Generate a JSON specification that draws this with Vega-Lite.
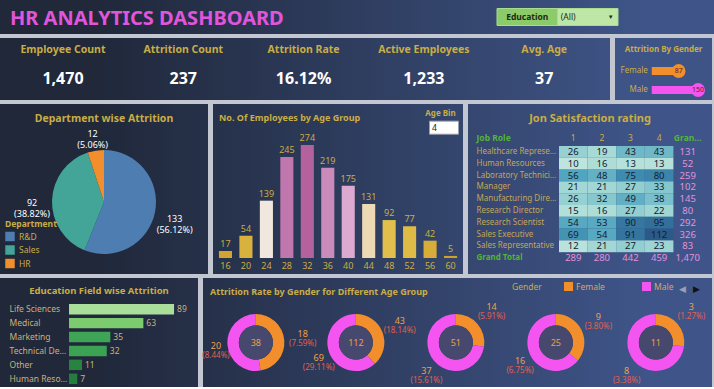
{
  "$schema": "https://vega.github.io/schema/vega-lite/v6.json",
  "background": "#c3c7d1",
  "padding": 0,
  "spacing": 4,
  "resolve": {"scale": {"color": "independent", "theta": "independent"}, "legend": {"color": "independent"}},
  "config": {
    "font": "Noto Sans",
    "view": {"stroke": null},
    "title": {"offset": 0, "baseline": "middle", "frame": "group", "color": "#c9ad45", "fontWeight": "bold", "font": "Noto Sans"},
    "axis": {"grid": false, "domain": false, "ticks": false, "tickSize": 0, "labelFont": "Noto Sans", "titleFont": "Noto Sans"},
    "legend": {"labelFont": "Noto Sans", "titleFont": "Noto Sans"}
  },
  "vconcat": [
    {
      "width": 714, "height": 34,
      "view": {"stroke": null, "fill": {"gradient": "linear", "x1": 0, "y1": 0, "x2": 1, "y2": 0, "stops": [{"offset": 0, "color": "#20283a"}, {"offset": 0.14, "color": "#20283a"}, {"offset": 0.91, "color": "#3f5589"}, {"offset": 1, "color": "#3f5589"}]}},
      "title": {"text": "HR ANALYTICS DASHBOARD", "anchor": "start", "dx": 10, "dy": 33, "fontSize": 20, "color": "#e055dc"},
      "data": {"values": [{"part": "Education"}, {"part": "(All)"}]},
      "encoding": {
        "x": {"field": "part", "type": "nominal", "sort": null, "axis": null, "scale": {"type": "band", "domain": ["Education", "(All)"], "range": [497, 618], "paddingInner": 0, "paddingOuter": 0}},
        "y": {"datum": "filter", "type": "nominal", "axis": null, "scale": {"type": "band", "domain": ["filter"], "paddingInner": 0, "paddingOuter": 0.5}}
      },
      "layer": [
        {"mark": {"type": "rect", "stroke": "#a9dc8c", "strokeWidth": 1}, "encoding": {"color": {"field": "part", "type": "nominal", "legend": null, "scale": {"domain": ["Education", "(All)"], "range": ["#8ccb69", "#bde6a7"]}}}},
        {"transform": [{"filter": "datum.part == 'Education'"}], "mark": {"type": "text", "fontSize": 8.5, "fontWeight": "bold", "color": "#1d2a14"}, "encoding": {"text": {"field": "part"}}},
        {"transform": [{"filter": "datum.part == '(All)'"}], "mark": {"type": "text", "fontSize": 8.5, "align": "left", "xOffset": -27, "color": "#1d2a14"}, "encoding": {"text": {"field": "part"}}},
        {"transform": [{"filter": "datum.part == '(All)'"}], "mark": {"type": "text", "fontSize": 6, "xOffset": 23, "color": "#1d2a14"}, "encoding": {"text": {"value": "▼"}}}
      ]
    },
    {
      "resolve": {"scale": {"color": "independent", "theta": "independent"}, "legend": {"color": "independent"}},
      "hconcat": [
        {
          "width": 610, "height": 62,
          "view": {"stroke": null, "fill": {"gradient": "linear", "x1": 0, "y1": 0, "x2": 1, "y2": 0, "stops": [{"offset": 0, "color": "#20283a"}, {"offset": 0.164, "color": "#20283a"}, {"offset": 1, "color": "#3d5283"}]}},
          "data": {"values": [
            {"kpi": "Employee Count", "value": "1,470"},
            {"kpi": "Attrition Count", "value": "237"},
            {"kpi": "Attrition Rate", "value": "16.12%"},
            {"kpi": "Active Employees", "value": "1,233"},
            {"kpi": "Avg. Age", "value": "37"}
          ]},
          "encoding": {"x": {"field": "kpi", "type": "nominal", "sort": null, "axis": null, "scale": {"type": "band", "paddingInner": 0, "paddingOuter": 0.035, "align": 0.335}}},
          "layer": [
            {"mark": {"type": "text", "fontSize": 10.5, "fontWeight": "bold", "color": "#c9ad45"}, "encoding": {"text": {"field": "kpi"}, "y": {"datum": "label", "type": "nominal", "axis": null, "scale": {"type": "point", "domain": ["label", "value"], "padding": 0.569, "align": 0.364}}}},
            {"mark": {"type": "text", "fontSize": 16, "fontWeight": "bold", "color": "#ffffff"}, "encoding": {"text": {"field": "value"}, "y": {"datum": "value", "type": "nominal"}}}
          ]
        },
        {
          "width": 97, "height": 62,
          "view": {"stroke": null, "fill": "#3e5487"},
          "title": {"text": "Attrition By Gender", "fontSize": 8, "dy": 20},
          "data": {"values": [{"gender": "Female", "count": 87}, {"gender": "Male", "count": 150}]},
          "encoding": {
            "y": {"field": "gender", "type": "nominal", "axis": null, "scale": {"type": "band", "domain": ["Female", "Male"], "paddingInner": 0.579, "paddingOuter": 0.921, "align": 0.829}},
            "x": {"field": "count", "type": "quantitative", "axis": null, "scale": {"domain": [-119, 195], "nice": false, "zero": false}},
            "color": {"field": "gender", "type": "nominal", "legend": null, "scale": {"domain": ["Female", "Male"], "range": ["#f28e2b", "#f455f0"]}}
          },
          "layer": [
            {"mark": {"type": "bar"}},
            {"mark": {"type": "point", "filled": true, "size": 190, "opacity": 1}},
            {"mark": {"type": "text", "fontSize": 7}, "encoding": {"text": {"field": "count"}, "color": {"value": "#5a2020"}}},
            {"mark": {"type": "text", "align": "right", "dx": -4, "fontSize": 8}, "encoding": {"x": {"datum": 0, "type": "quantitative"}, "text": {"field": "gender"}, "color": {"value": "#c9ad45"}}}
          ]
        }
      ],
      "spacing": 5,
      "bounds": "flush"
    },
    {
      "resolve": {"scale": {"color": "independent", "theta": "independent"}, "legend": {"color": "independent"}},
      "hconcat": [
        {
          "width": 208, "height": 170,
          "view": {"stroke": null, "fill": {"gradient": "linear", "x1": 0, "y1": 0, "x2": 1, "y2": 0, "stops": [{"offset": 0, "color": "#20283a"}, {"offset": 0.48, "color": "#20283a"}, {"offset": 1, "color": "#263149"}]}},
          "title": {"text": "Department wise Attrition", "fontSize": 10.5, "dy": 24},
          "data": {"values": [
            {"department": "R&D", "attrition": 133, "label": "133\n(56.12%)", "order": 1},
            {"department": "Sales", "attrition": 92, "label": "92\n(38.82%)", "order": 2},
            {"department": "HR", "attrition": 12, "label": "12\n(5.06%)", "order": 3}
          ]},
          "encoding": {
            "theta": {"field": "attrition", "type": "quantitative", "stack": true},
            "order": {"field": "order", "type": "quantitative"}
          },
          "layer": [
            {"mark": {"type": "arc", "outerRadius": 52, "yOffset": 13},
             "encoding": {"color": {"field": "department", "type": "nominal", "sort": null, "scale": {"domain": ["R&D", "Sales", "HR"], "range": ["#4e7db1", "#43a597", "#f28e2b"]},
               "legend": {"orient": "bottom-left", "offset": 5, "title": "Department", "titleColor": "#c9ad45", "titleFontSize": 8.5, "titleFontWeight": "bold", "titlePadding": 3, "labelColor": "#c9ad45", "labelFontSize": 8.5, "symbolType": "square", "symbolSize": 90, "symbolStrokeWidth": 0, "symbolOpacity": 1, "rowPadding": 3.5}}}},
            {"mark": {"type": "text", "radius": 72, "yOffset": 16, "fontSize": 9, "lineBreak": "\n"},
             "encoding": {"text": {"field": "label"}, "detail": {"field": "department"}, "color": {"value": "#ffffff"}}}
          ]
        },
        {
          "width": 250, "height": 170,
          "view": {"stroke": null, "fill": {"gradient": "linear", "x1": 0, "y1": 0, "x2": 1, "y2": 0, "stops": [{"offset": 0, "color": "#26314a"}, {"offset": 1, "color": "#34466e"}]}},
          "title": {"text": "No. Of Employees by Age Group", "fontSize": 9, "anchor": "start", "dx": 6, "dy": 23},
          "encoding": {
            "x": {"field": "age", "type": "ordinal", "scale": {"type": "band", "domain": [16, 20, 24, 28, 32, 36, 40, 44, 48, 52, 56, 60], "paddingInner": 0.36, "paddingOuter": 0.29},
                  "axis": {"orient": "bottom", "labelPadding": -13, "labelColor": "#c9ad45", "labelFontSize": 9, "labelAngle": 0, "domain": false, "ticks": false, "title": null}},
            "y": {"field": "employees", "type": "quantitative", "axis": null, "scale": {"domain": [-38.8, 373.4], "nice": false, "zero": false}}
          },
          "layer": [
            {"data": {"name": "ages", "values": [
               {"age": 16, "employees": 17}, {"age": 20, "employees": 54}, {"age": 24, "employees": 139},
               {"age": 28, "employees": 245}, {"age": 32, "employees": 274}, {"age": 36, "employees": 219},
               {"age": 40, "employees": 175}, {"age": 44, "employees": 131}, {"age": 48, "employees": 92},
               {"age": 52, "employees": 77}, {"age": 56, "employees": 42}, {"age": 60, "employees": 5}
             ]},
             "mark": {"type": "bar"}, "encoding": {"color": {"field": "employees", "type": "quantitative", "legend": null, "scale": {"domain": [5, 100, 135, 140, 175, 274], "range": ["#d0a02a", "#e2c250", "#eddcc0", "#f0ebe6", "#dcaad0", "#b4629e"]}}}},
            {"data": {"name": "ages"}, "mark": {"type": "text", "baseline": "bottom", "dy": -2, "fontSize": 9, "color": "#c9ad45"}, "encoding": {"text": {"field": "employees"}}},
            {"data": {"values": [{"parameter": "Age Bin", "age": 60, "employees": 350}]},
             "mark": {"type": "text", "fontSize": 8, "fontWeight": "bold", "color": "#c9ad45", "xOffset": -10}, "encoding": {"text": {"field": "parameter"}}},
            {"data": {"values": [{"parameter": "Age Bin", "age": 60, "employees": 316, "value": "4"}]},
             "mark": {"type": "point", "shape": "M-1,-0.45H1V0.45H-1Z", "size": 841, "filled": true, "color": "#ffffff", "stroke": "#9aa0aa", "strokeWidth": 1, "opacity": 1, "xOffset": -6.5}},
            {"data": {"values": [{"parameter": "Age Bin", "age": 60, "employees": 316, "value": "4"}]},
             "mark": {"type": "text", "fontSize": 8.5, "align": "left", "color": "#222222", "xOffset": -18.5}, "encoding": {"text": {"field": "value"}}}
          ]
        },
        {
          "width": 244, "height": 170,
          "view": {"stroke": null, "fill": {"gradient": "linear", "x1": 0, "y1": 0, "x2": 1, "y2": 0, "stops": [{"offset": 0, "color": "#35466f"}, {"offset": 0.746, "color": "#3f5589"}, {"offset": 1, "color": "#3f5589"}]}},
          "title": {"text": "Jon Satisfaction rating", "fontSize": 11, "dy": 24},
          "data": {"values": [
            {"role": "Healthcare Representative", "rating": "1", "count": 26}, {"role": "Healthcare Representative", "rating": "2", "count": 19}, {"role": "Healthcare Representative", "rating": "3", "count": 43}, {"role": "Healthcare Representative", "rating": "4", "count": 43}, {"role": "Healthcare Representative", "rating": "Grand Total", "count": 131},
            {"role": "Human Resources", "rating": "1", "count": 10}, {"role": "Human Resources", "rating": "2", "count": 16}, {"role": "Human Resources", "rating": "3", "count": 13}, {"role": "Human Resources", "rating": "4", "count": 13}, {"role": "Human Resources", "rating": "Grand Total", "count": 52},
            {"role": "Laboratory Technician", "rating": "1", "count": 56}, {"role": "Laboratory Technician", "rating": "2", "count": 48}, {"role": "Laboratory Technician", "rating": "3", "count": 75}, {"role": "Laboratory Technician", "rating": "4", "count": 80}, {"role": "Laboratory Technician", "rating": "Grand Total", "count": 259},
            {"role": "Manager", "rating": "1", "count": 21}, {"role": "Manager", "rating": "2", "count": 21}, {"role": "Manager", "rating": "3", "count": 27}, {"role": "Manager", "rating": "4", "count": 33}, {"role": "Manager", "rating": "Grand Total", "count": 102},
            {"role": "Manufacturing Director", "rating": "1", "count": 26}, {"role": "Manufacturing Director", "rating": "2", "count": 32}, {"role": "Manufacturing Director", "rating": "3", "count": 49}, {"role": "Manufacturing Director", "rating": "4", "count": 38}, {"role": "Manufacturing Director", "rating": "Grand Total", "count": 145},
            {"role": "Research Director", "rating": "1", "count": 15}, {"role": "Research Director", "rating": "2", "count": 16}, {"role": "Research Director", "rating": "3", "count": 27}, {"role": "Research Director", "rating": "4", "count": 22}, {"role": "Research Director", "rating": "Grand Total", "count": 80},
            {"role": "Research Scientist", "rating": "1", "count": 54}, {"role": "Research Scientist", "rating": "2", "count": 53}, {"role": "Research Scientist", "rating": "3", "count": 90}, {"role": "Research Scientist", "rating": "4", "count": 95}, {"role": "Research Scientist", "rating": "Grand Total", "count": 292},
            {"role": "Sales Executive", "rating": "1", "count": 69}, {"role": "Sales Executive", "rating": "2", "count": 54}, {"role": "Sales Executive", "rating": "3", "count": 91}, {"role": "Sales Executive", "rating": "4", "count": 112}, {"role": "Sales Executive", "rating": "Grand Total", "count": 326},
            {"role": "Sales Representative", "rating": "1", "count": 12}, {"role": "Sales Representative", "rating": "2", "count": 21}, {"role": "Sales Representative", "rating": "3", "count": 27}, {"role": "Sales Representative", "rating": "4", "count": 23}, {"role": "Sales Representative", "rating": "Grand Total", "count": 83},
            {"role": "Grand Total", "rating": "1", "count": 289}, {"role": "Grand Total", "rating": "2", "count": 280}, {"role": "Grand Total", "rating": "3", "count": 442}, {"role": "Grand Total", "rating": "4", "count": 459}, {"role": "Grand Total", "rating": "Grand Total", "count": 1470}
          ]},
          "encoding": {
            "x": {"field": "rating", "type": "nominal", "sort": null,
                  "scale": {"type": "band", "domain": ["1", "2", "3", "4", "Grand Total"], "range": [91, 234], "paddingInner": 0, "paddingOuter": 0},
                  "axis": {"orient": "top", "labelPadding": -38, "labelBaseline": "bottom", "labelAngle": 0, "labelFontSize": 8.5, "labelLimit": 30, "title": null,
                           "labelColor": {"condition": {"test": "datum.value == 'Grand Total'", "value": "#52b43a"}, "value": "#c9ad45"},
                           "labelFontWeight": {"condition": {"test": "datum.value == 'Grand Total'", "value": "bold"}, "value": "normal"}}},
            "y": {"field": "role", "type": "nominal", "sort": null,
                  "scale": {"type": "band", "domain": ["Healthcare Representative", "Human Resources", "Laboratory Technician", "Manager", "Manufacturing Director", "Research Director", "Research Scientist", "Sales Executive", "Sales Representative", "Grand Total"], "range": [42, 160], "paddingInner": 0, "paddingOuter": 0},
                  "axis": {"orient": "left", "labelAlign": "left", "labelPadding": -8, "labelFontSize": 8, "labelLimit": 82,
                           "labelColor": {"condition": {"test": "datum.value == 'Grand Total'", "value": "#52b43a"}, "value": "#c4a656"},
                           "labelFontWeight": {"condition": {"test": "datum.value == 'Grand Total'", "value": "bold"}, "value": "normal"},
                           "title": "Job Role", "titleAngle": 0, "titleAlign": "left", "titleBaseline": "bottom", "titleX": 8, "titleY": 38, "titleColor": "#52b43a", "titleFontSize": 8.5, "titleFontWeight": "bold"}}
          },
          "layer": [
            {"transform": [{"filter": "datum.rating != 'Grand Total' && datum.role != 'Grand Total'"}],
             "mark": {"type": "rect"},
             "encoding": {"color": {"field": "count", "type": "quantitative", "legend": null, "scale": {"domain": [10, 30, 60, 112], "range": ["#bde5dd", "#8ccbd0", "#4a9fbe", "#2b5a88"]}}}},
            {"mark": {"type": "text", "fontSize": 9.5},
             "encoding": {"text": {"field": "count", "type": "quantitative", "format": ","},
                          "color": {"condition": {"test": "datum.rating == 'Grand Total' || datum.role == 'Grand Total'", "value": "#e391dc"}, "value": "#15202b"}}}
          ]
        }
      ],
      "spacing": 5,
      "bounds": "flush"
    },
    {
      "resolve": {"scale": {"color": "independent", "theta": "independent"}, "legend": {"color": "independent"}},
      "hconcat": [
        {
          "width": 198, "height": 109,
          "view": {"stroke": null, "fill": {"gradient": "linear", "x1": 0, "y1": 0, "x2": 1, "y2": 0, "stops": [{"offset": 0, "color": "#20283a"}, {"offset": 0.505, "color": "#20283a"}, {"offset": 1, "color": "#263048"}]}},
          "title": {"text": "Education Field wise Attrition", "fontSize": 9.5, "dy": 21},
          "data": {"values": [
            {"education": "Life Sciences", "attrition": 89},
            {"education": "Medical", "attrition": 63},
            {"education": "Marketing", "attrition": 35},
            {"education": "Technical Degree", "attrition": 32},
            {"education": "Other", "attrition": 11},
            {"education": "Human Resources", "attrition": 7}
          ]},
          "encoding": {
            "y": {"field": "education", "type": "nominal", "sort": null, "scale": {"type": "band", "range": [26, 106], "paddingInner": 0.25, "paddingOuter": 0},
                  "axis": {"orient": "left", "labelAlign": "left", "labelPadding": -9, "labelColor": "#c8b27a", "labelFontSize": 8.5, "labelLimit": 58, "title": null}},
            "x": {"field": "attrition", "type": "quantitative", "axis": null, "scale": {"domain": [-58.5, 109.3], "nice": false, "zero": false}}
          },
          "layer": [
            {"mark": {"type": "bar"}, "encoding": {"color": {"field": "attrition", "type": "quantitative", "legend": null, "scale": {"domain": [7, 35, 63, 89], "range": ["#247d3d", "#3ea556", "#7ccb6e", "#a9de9b"]}}}},
            {"mark": {"type": "text", "align": "left", "dx": 3, "fontSize": 8.5, "color": "#c8b27a"}, "encoding": {"text": {"field": "attrition"}}}
          ]
        },
        {
          "width": 509, "height": 109,
          "view": {"stroke": null, "fill": {"gradient": "linear", "x1": 0, "y1": 0, "x2": 1, "y2": 0, "stops": [{"offset": 0, "color": "#263049"}, {"offset": 0.878, "color": "#3f5589"}, {"offset": 1, "color": "#3f5589"}]}},
          "title": {"text": "Attrition Rate by Gender for Different Age Group", "fontSize": 9, "anchor": "start", "dx": 7, "dy": 23},
          "data": {"values": [
            {"group": "Under 25", "gender": "Female", "count": 18, "pct": "(7.59%)"},
            {"group": "Under 25", "gender": "Male", "count": 20, "pct": "(8.44%)"},
            {"group": "25-34", "gender": "Female", "count": 43, "pct": "(18.14%)"},
            {"group": "25-34", "gender": "Male", "count": 69, "pct": "(29.11%)"},
            {"group": "35-44", "gender": "Female", "count": 14, "pct": "(5.91%)"},
            {"group": "35-44", "gender": "Male", "count": 37, "pct": "(15.61%)"},
            {"group": "45-54", "gender": "Female", "count": 9, "pct": "(3.80%)"},
            {"group": "45-54", "gender": "Male", "count": 16, "pct": "(6.75%)"},
            {"group": "Over 55", "gender": "Female", "count": 3, "pct": "(1.27%)"},
            {"group": "Over 55", "gender": "Male", "count": 8, "pct": "(3.38%)"}
          ]},
          "transform": [
            {"stack": "count", "groupby": ["group"], "sort": [{"field": "gender", "order": "ascending"}], "offset": "normalize", "as": ["t0", "t1"]},
            {"calculate": "(datum.t0 + datum.t1) / 2", "as": "tmid"}
          ],
          "encoding": {
            "x": {"field": "group", "type": "nominal", "sort": null, "axis": null, "scale": {"type": "point", "domain": ["Under 25", "25-34", "35-44", "45-54", "Over 55"], "padding": 0.545, "align": 0.485}}
          },
          "layer": [
            {"mark": {"type": "arc", "outerRadius": 28.5, "innerRadius": 17, "yOffset": 10},
             "encoding": {
               "theta": {"field": "t0", "type": "quantitative", "stack": null, "scale": {"domain": [0, 1]}},
               "theta2": {"field": "t1"},
               "color": {"field": "gender", "type": "nominal", "scale": {"domain": ["Female", "Male"], "range": ["#f28e2b", "#f455f0"]},
                 "legend": {"orient": "none", "legendX": 309, "legendY": 4, "direction": "horizontal", "title": "Gender", "titleOrient": "left", "titleColor": "#c9ad45", "titleFontSize": 8.5, "titleFontWeight": "normal", "titlePadding": 22, "labelColor": "#dca266", "labelFontSize": 8.5, "symbolType": "square", "symbolSize": 81, "symbolStrokeWidth": 0, "symbolOpacity": 1, "columnPadding": 37, "labelOffset": 3}}
             }},
            {"mark": {"type": "point", "filled": true, "size": 1156, "color": "#46496d", "opacity": 1, "yOffset": 10}},
            {"mark": {"type": "text", "fontSize": 9, "color": "#eea040", "yOffset": 10},
             "encoding": {"text": {"aggregate": "sum", "field": "count", "type": "quantitative"}}},
            {"transform": [{"filter": "datum.gender == 'Female'"}],
             "mark": {"type": "text", "fontSize": 9, "color": "#eea04a", "radius": 47, "yOffset": 5},
             "encoding": {"theta": {"field": "tmid", "type": "quantitative", "stack": null, "scale": {"domain": [0, 1]}}, "text": {"field": "count", "type": "quantitative"}}},
            {"transform": [{"filter": "datum.gender == 'Female'"}],
             "mark": {"type": "text", "fontSize": 8, "color": "#e0604e", "radius": 47, "yOffset": 15},
             "encoding": {"theta": {"field": "tmid", "type": "quantitative", "stack": null, "scale": {"domain": [0, 1]}}, "text": {"field": "pct"}}},
            {"transform": [{"filter": "datum.gender == 'Male'"}],
             "mark": {"type": "text", "fontSize": 9, "color": "#eea04a", "radius": 44, "xOffset": 4, "yOffset": 10},
             "encoding": {"theta": {"field": "tmid", "type": "quantitative", "stack": null, "scale": {"domain": [0, 1]}}, "text": {"field": "count", "type": "quantitative"}}},
            {"transform": [{"filter": "datum.gender == 'Male'"}],
             "mark": {"type": "text", "fontSize": 8, "color": "#e0604e", "radius": 44, "xOffset": 4, "yOffset": 20},
             "encoding": {"theta": {"field": "tmid", "type": "quantitative", "stack": null, "scale": {"domain": [0, 1]}}, "text": {"field": "pct"}}},
            {"data": {"values": [{"group": "Over 55", "control": "◀"}]},
             "mark": {"type": "text", "fontSize": 9, "color": "#9aa0b0", "xOffset": 27, "yOffset": -44},
             "encoding": {"text": {"field": "control"}}},
            {"data": {"values": [{"group": "Over 55", "control": "▶"}]},
             "mark": {"type": "text", "fontSize": 9, "color": "#111111", "xOffset": 41, "yOffset": -44},
             "encoding": {"text": {"field": "control"}}}
          ]
        }
      ],
      "spacing": 5,
      "bounds": "flush"
    }
  ]
}
